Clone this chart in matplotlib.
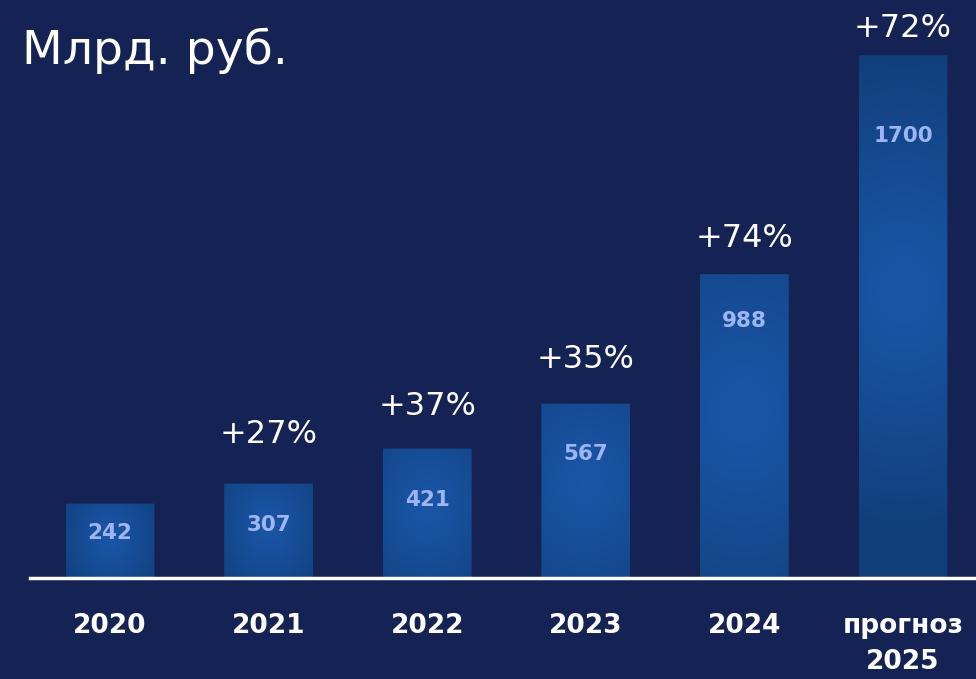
import numpy as np
import matplotlib
matplotlib.use("Agg")
import matplotlib.pyplot as plt
from matplotlib.patches import FancyBboxPatch

categories = ["2020", "2021", "2022", "2023", "2024", "прогноз\n2025"]
values = [242, 307, 421, 567, 988, 1700]
growth_labels = ["", "+27%", "+37%", "+35%", "+74%", "+72%"]
unit_title = "Млрд. руб."

# style-only offsets (points)
value_offsets = [-21, -30, -37, -36, -34, -58]
growth_offsets = [0, 35, 30, 32, 26, 19]

BG = "#142254"
W, H = 976, 679
plt.rcParams["font.family"] = ["DejaVu Sans"]
fig = plt.figure(figsize=(W / 100, H / 100), dpi=100, facecolor=BG)

base_px = 578
px_per_unit = 0.3075
spacing = 158.6
first_center = 110

ax = fig.add_axes([0, (H - base_px) / H, 1, base_px / H])
ax.set_facecolor(BG)
ax.set_xlim(-first_center / spacing, (W - first_center) / spacing)
ax.set_ylim(0, base_px / px_per_unit)

x = np.arange(len(values))
bars = ax.bar(x, values, width=0.56, color="none", edgecolor="none")

# radial gradient texture
ny, nx = 200, 100
yy, xx = np.mgrid[0:1:ny * 1j, 0:1:nx * 1j]
dark = np.array([0x10, 0x3f, 0x7a]) / 255
bright = np.array([0x1a, 0x55, 0xa6]) / 255

for b in bars:
    x0, y0 = b.get_x(), b.get_y()
    w, h = b.get_width(), b.get_height()
    hp = h * px_per_unit
    wp = 89.0
    cy = 0.55
    dx = (xx - 0.5) * wp
    dy = (yy - cy) * hp
    r = np.sqrt(dx ** 2 + (dy * 0.8) ** 2)
    t = np.clip(r / max(min(hp, 260) * 0.75, 60), 0, 1)
    t = t ** 1.2
    img = bright[None, None, :] * (1 - t[..., None]) + dark[None, None, :] * t[..., None]
    im = ax.imshow(img, extent=[x0, x0 + w, y0, y0 + h], origin="lower",
                   aspect="auto", interpolation="bilinear", zorder=2)
    clip = FancyBboxPatch((x0, y0 - 30), w, h + 30,
                          boxstyle="round,pad=0,rounding_size=0.03",
                          mutation_aspect=1 / (px_per_unit * spacing),
                          transform=ax.transData, facecolor="none", edgecolor="none")
    ax.add_patch(clip)
    im.set_clip_path(clip)

ax.set_xlim(-first_center / spacing, (W - first_center) / spacing)
ax.set_ylim(0, base_px / px_per_unit)

for i, b in enumerate(bars):
    top = b.get_height()
    cx = b.get_x() + b.get_width() / 2
    ax.annotate(str(values[i]), (cx, top), xytext=(0, value_offsets[i]),
                textcoords="offset points", ha="center", va="center",
                fontsize=15.5, fontweight="bold", color="#9db5f2", zorder=5)
    if growth_labels[i]:
        ax.annotate(growth_labels[i], (cx, top), xytext=(0, growth_offsets[i]),
                    textcoords="offset points", ha="center", va="center",
                    fontsize=23, color="white", zorder=5, annotation_clip=False)

for s in ["top", "right", "left"]:
    ax.spines[s].set_visible(False)
ax.spines["bottom"].set_color("white")
ax.spines["bottom"].set_linewidth(2.5)
ax.spines["bottom"].set_bounds((30 - first_center) / spacing, (W - first_center) / spacing)
ax.spines["bottom"].set_zorder(6)
ax.set_yticks([])
ax.set_xticks(x)
ax.set_xticklabels(categories, fontsize=19, fontweight="bold", color="white",
                   linespacing=1.5)
ax.tick_params(axis="x", length=0, pad=25)

fig.text(22 / W, 1 - 51 / H, unit_title, fontsize=34, color="white",
         ha="left", va="center")

fig.savefig("out.png", dpi=100, facecolor=BG)
